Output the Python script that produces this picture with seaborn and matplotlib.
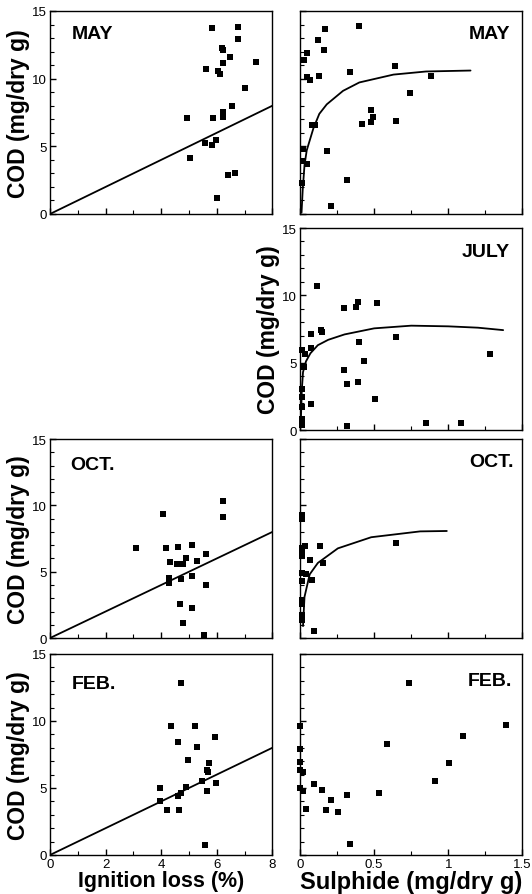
import matplotlib
matplotlib.use('Agg')
import matplotlib.pyplot as plt
import seaborn as sns
from matplotlib.ticker import MultipleLocator

# COD vs ignition loss (%)
may_ign = [4.92, 5.04, 5.58, 5.61, 5.83, 5.85, 5.82, 5.98, 6.00, 6.03, 6.12, 6.18,
           6.24, 6.24, 6.24, 6.24, 6.40, 6.48, 6.54, 6.66, 6.76, 6.76, 7.02, 7.42]
may_ign_cod = [7.07, 4.16, 5.27, 10.74, 13.72, 7.07, 5.08, 5.49, 1.16, 10.57, 10.33, 12.27,
               12.10, 11.13, 7.50, 7.19, 2.86, 11.61, 7.98, 3.02, 13.84, 12.94, 9.32, 11.25]

oct_ign = [3.10, 4.07, 6.21, 6.21, 4.19, 4.61, 5.10, 5.60, 4.31, 4.58, 4.80, 4.90,
           5.30, 4.29, 4.29, 4.70, 5.10, 5.62, 4.68, 5.10, 4.80, 5.54]
oct_ign_cod = [6.80, 9.35, 10.30, 9.10, 6.80, 6.88, 7.00, 6.37, 5.74, 5.60, 5.60, 6.04,
               5.80, 4.55, 4.14, 4.47, 4.67, 4.00, 2.60, 2.23, 1.10, 0.25]

feb_ign = [4.73, 4.36, 5.22, 4.62, 5.93, 5.30, 4.98, 5.72, 5.66, 5.69, 5.48, 5.96,
           3.94, 4.89, 4.71, 4.62, 5.64, 3.96, 4.21, 4.64, 5.57]
feb_ign_cod = [12.84, 9.60, 9.60, 8.40, 8.83, 8.04, 7.09, 6.84, 6.34, 6.20, 5.50, 5.37,
               4.98, 5.05, 4.63, 4.43, 4.75, 4.00, 3.36, 3.38, 0.77]

fit_ign = [0, 8]
fit_ign_cod = [0, 8]

# COD vs sulphide (mg/dry g)
may_sul = [0.40, 0.17, 0.12, 0.16, 0.05, 0.03, 0.34, 0.64, 0.88, 0.13, 0.045, 0.067,
           0.745, 0.477, 0.49, 0.477, 0.42, 0.65, 0.083, 0.10, 0.18, 0.022, 0.022,
           0.05, 0.32, 0.011, 0.21]
may_sul_cod = [13.87, 13.67, 12.86, 12.10, 11.86, 11.36, 10.50, 10.90, 10.23, 10.23, 10.10, 9.90,
               8.97, 7.66, 7.14, 6.78, 6.63, 6.84, 6.59, 6.59, 4.65, 4.82, 3.95,
               3.70, 2.52, 2.26, 0.56]
may_curve = [0.010, 0.018, 0.03, 0.045, 0.09, 0.13, 0.18, 0.29, 0.40, 0.63, 0.85, 1.15]
may_curve_cod = [0.1, 1.8, 3.6, 4.7, 6.33, 7.4, 8.1, 9.1, 9.72, 10.3, 10.53, 10.6]

jul_sul = [0.114, 0.295, 0.377, 0.388, 0.52, 0.076, 0.143, 0.150, 0.645, 0.01, 0.036,
           0.076, 0.027, 0.40, 0.43, 0.295, 0.317, 0.393, 0.504, 0.01, 0.01, 0.01,
           0.01, 0.072, 0.317, 0.85, 1.087, 1.28, 0.01]
jul_sul_cod = [10.71, 9.06, 9.10, 9.53, 9.40, 7.13, 7.42, 7.30, 6.93, 5.96, 5.64,
               6.06, 4.65, 6.56, 5.10, 4.45, 3.41, 3.59, 2.30, 3.04, 2.43, 1.68,
               0.82, 1.93, 0.32, 0.52, 0.52, 5.64, 0.4]
jul_curve = [0.004, 0.012, 0.02, 0.04, 0.07, 0.12, 0.19, 0.30, 0.50, 0.75, 1.00, 1.20, 1.37]
jul_curve_cod = [0.2, 3.0, 4.3, 5.1, 5.7, 6.3, 6.7, 7.1, 7.55, 7.75, 7.7, 7.6, 7.42]

oct_sul = [0.013, 0.013, 0.036, 0.01, 0.01, 0.01, 0.136, 0.065, 0.154, 0.01, 0.042,
           0.082, 0.01, 0.01, 0.01, 0.01, 0.01, 0.094, 0.645]
oct_sul_cod = [9.26, 9.00, 6.93, 6.80, 6.50, 6.15, 6.93, 5.90, 5.69, 4.93, 4.80,
               4.40, 4.30, 2.85, 2.60, 1.70, 1.35, 0.50, 7.13]
oct_curve = [0.02, 0.03, 0.065, 0.12, 0.255, 0.48, 0.81, 0.99]
oct_curve_cod = [0.9, 3.1, 4.8, 5.66, 6.76, 7.6, 8.04, 8.07]

feb_sul = [0.737, 1.39, 1.10, 0.585, 1.003, 0.913, 0.534, 0.335, 0.317, 0.257, 0.21,
           0.177, 0.145, 0.094, 0.038, 0.023, 0.0, 0.023, 0.0, 0.0, 0.0, 0.0]
feb_sul_cod = [12.82, 9.67, 8.85, 8.25, 6.87, 5.53, 4.64, 0.82, 4.46, 3.17, 4.09,
               3.37, 4.88, 5.33, 3.42, 4.76, 5.03, 6.20, 6.32, 6.94, 7.93, 9.59]

ylab = 'COD (mg/dry g)'

sns.set_style('ticks')
plt.rcParams['font.family'] = ['Liberation Sans', 'DejaVu Sans']
plt.rcParams['text.color'] = 'black'
plt.rcParams['axes.labelcolor'] = 'black'

fig = plt.figure(figsize=(5.32, 8.95), dpi=100)

left_x, right_x, w = 0.094, 0.564, 0.418
rows = [(0.7598, 0.2268), (0.5184, 0.2257), (0.286, 0.2223), (0.0436, 0.2246)]


def panel(pos, x, y, fx, fy, kind, name, lab_pos, ylabels, xlabel, xl_size=15.5):
    ax = fig.add_axes(pos)
    sns.scatterplot(x=x, y=y, ax=ax, marker='s', s=15, color='black',
                    edgecolor='black', linewidth=0, clip_on=False, zorder=3)
    if fx is not None:
        sns.lineplot(x=fx, y=fy, ax=ax, color='black', lw=1.3,
                     sort=False, estimator=None)
    ax.set_ylim(0, 15)
    ax.yaxis.set_major_locator(MultipleLocator(5))
    ax.yaxis.set_minor_locator(MultipleLocator(1))
    if kind == 'ign':
        ax.set_xlim(0, 8)
        ax.xaxis.set_major_locator(MultipleLocator(2))
        ax.xaxis.set_minor_locator(MultipleLocator(1))
    else:
        ax.set_xlim(0, 1.5)
        ax.set_xticks([0, 0.5, 1, 1.5])
        ax.set_xticklabels(['0', '0.5', '1', '1.5'])
        ax.xaxis.set_minor_locator(MultipleLocator(0.25))
    ax.tick_params(which='both', direction='in', colors='black', labelsize=9.5,
                   pad=2, bottom=True, left=True)
    ax.tick_params(which='major', length=4, width=1)
    ax.tick_params(which='minor', length=3, width=0.8)
    for s in ax.spines.values():
        s.set_visible(True)
        s.set_color('black')
        s.set_linewidth(1)
    if not ylabels:
        ax.set_yticklabels([])
        ax.set_ylabel('')
    else:
        ax.set_ylabel(ylab, fontsize=16.5, fontweight='bold', labelpad=2)
    if xlabel is None:
        ax.set_xticklabels([])
        ax.set_xlabel('')
    else:
        ax.set_xlabel(xlabel, fontsize=xl_size, fontweight='bold', labelpad=0)
    ha = 'left' if lab_pos[0] < 0.5 else 'right'
    ax.text(lab_pos[0], lab_pos[1], name, transform=ax.transAxes, ha=ha,
            va='top', fontsize=14, fontweight='heavy')
    return ax


panel([left_x, rows[0][0], w, rows[0][1]], may_ign, may_ign_cod, fit_ign, fit_ign_cod,
      'ign', 'MAY', (0.10, 0.93), True, None)
panel([right_x, rows[0][0], w, rows[0][1]], may_sul, may_sul_cod, may_curve, may_curve_cod,
      'sul', 'MAY', (0.945, 0.93), False, None)
panel([right_x, rows[1][0], w, rows[1][1]], jul_sul, jul_sul_cod, jul_curve, jul_curve_cod,
      'sul', 'JULY', (0.945, 0.925), True, None)
panel([left_x, rows[2][0], w, rows[2][1]], oct_ign, oct_ign_cod, fit_ign, fit_ign_cod,
      'ign', 'OCT.', (0.09, 0.915), True, None)
panel([right_x, rows[2][0], w, rows[2][1]], oct_sul, oct_sul_cod, oct_curve, oct_curve_cod,
      'sul', 'OCT.', (0.96, 0.93), False, None)
panel([left_x, rows[3][0], w, rows[3][1]], feb_ign, feb_ign_cod, fit_ign, fit_ign_cod,
      'ign', 'FEB.', (0.10, 0.895), True, 'Ignition loss (%)', 15.5)
panel([right_x, rows[3][0], w, rows[3][1]], feb_sul, feb_sul_cod, None, None,
      'sul', 'FEB.', (0.955, 0.91), False, 'Sulphide (mg/dry g)', 17)

fig.savefig('out.png', dpi=100)
